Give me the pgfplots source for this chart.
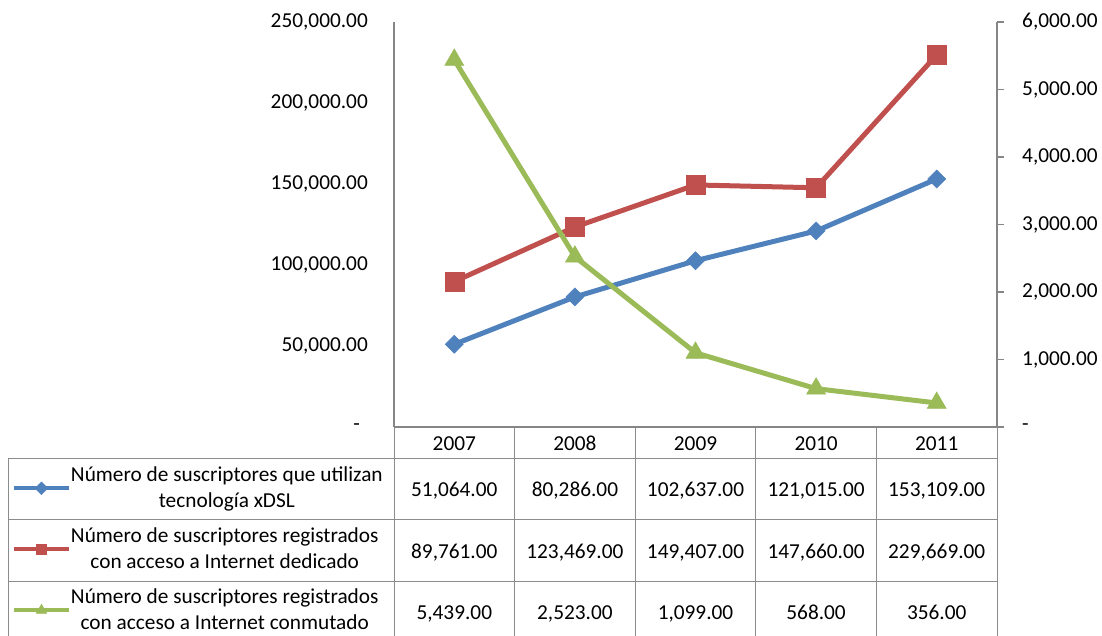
\documentclass[border=0pt]{standalone}
\usepackage{fontspec}
\setmainfont{Carlito}
\usepackage{pgfplots}
\usepackage{pgfplotstable}
\pgfplotsset{compat=1.18}
\pgfkeys{/pgf/number format/assume math mode=true}
\definecolor{sblue}{HTML}{4F81BD}
\definecolor{sred}{HTML}{C0504D}
\definecolor{sgreen}{HTML}{9BBB59}
\definecolor{axgray}{HTML}{868686}
\definecolor{tgray}{HTML}{8C8C8C}
\pgfplotstableread{
x year dsl ded con
0 2007 51064 89761 5439
1 2008 80286 123469 2523
2 2009 102637 149407 1099
3 2010 121015 147660 568
4 2011 153109 229669 356
}\data
\begin{document}
\fontsize{21.3}{26}\selectfont
\begin{tikzpicture}[x=1pt,y=1pt]
\path[use as bounding box] (0,0) rectangle (1102,636);
% table grid
\begin{scope}[draw=tgray, line width=1pt]
\foreach \xx in {394,514.6,635.2,755.8,876.4,997} {\draw (\xx,209) -- (\xx,0);}
\draw (8,177) -- (997,177);
\draw (8,116) -- (997,116);
\draw (8,54) -- (997,54);
\draw (8,177) -- (8,0);
\end{scope}
\begin{axis}[
  at={(394pt,209pt)}, anchor=south west, scale only axis,
  width=603pt, height=405pt,
  xmin=-0.5, xmax=4.5, ymin=0, ymax=250000,
  scaled y ticks=false,
  axis x line*=bottom, axis y line*=left,
  axis line style={draw=axgray, line width=1.2pt, -},
  xtick=\empty,
  ytick={0,50000,100000,150000,200000,250000},
  yticklabels={{-\hspace*{8pt}},{50,000.00},{100,000.00},{150,000.00},{200,000.00},{250,000.00}},
  major tick length=0pt,
  yticklabel style={inner sep=0pt, anchor=east, xshift=-26pt},
  clip=false,
]
\addplot[sblue, line width=5pt, mark=square*, mark size=6.4pt, mark options={rotate=45, line width=0.5pt, solid}, forget plot] table[x=x,y=dsl]{\data};
\addplot[sred, line width=5pt, mark=square*, mark size=9.5pt, mark options={line width=0.5pt, solid}, forget plot] table[x=x,y=ded]{\data};
\end{axis}
\begin{axis}[
  at={(394pt,209pt)}, anchor=south west, scale only axis,
  width=603pt, height=405pt,
  xmin=-0.5, xmax=4.5, ymin=0, ymax=6000,
  scaled y ticks=false,
  axis x line=none, axis y line*=right,
  axis line style={draw=axgray, line width=1.2pt, -},
  xtick=\empty,
  ytick={0,1000,2000,3000,4000,5000,6000},
  yticklabels={-,{1,000.00},{2,000.00},{3,000.00},{4,000.00},{5,000.00},{6,000.00}},
  tick align=outside, major tick length=7pt,
  tick style={draw=axgray, line width=1.2pt},
  yticklabel style={inner sep=0pt, anchor=west, xshift=18pt},
  clip=false,
  legend style={at={(axis description cs:-0.6335,-0.076)}, anchor=north west, draw=none, fill=none,
    inner sep=0pt, outer sep=0pt, column sep=0pt, row sep=0pt,
    nodes={minimum height=61pt, inner sep=0pt, align=center, font=\fontsize{21.3}{26}\selectfont}},
  legend cell align=left,
  legend image code/.code={\draw[mark repeat=2, mark phase=2, #1] plot coordinates {(0pt,0pt) (27.5pt,0pt) (55pt,0pt)};},
]
\addlegendimage{sblue, line width=4pt, mark=square*, mark size=4.5pt, mark options={rotate=45, line width=0.5pt, solid}}
\addlegendentry{Número de suscriptores que utilizan\\tecnología xDSL}
\addlegendimage{sred, line width=4pt, mark=square*, mark size=5pt, mark options={line width=0.5pt, solid}}
\addlegendentry{Número de suscriptores registrados\\con acceso a Internet dedicado}
\addlegendimage{sgreen, line width=4pt, mark=triangle*, mark size=6pt, mark options={line width=0.5pt, solid}}
\addlegendentry{Número de suscriptores registrados\\con acceso a Internet conmutado}
\addplot[sgreen, line width=5pt, mark=triangle*, mark size=11pt, mark options={line width=0.5pt, solid}, forget plot] table[x=x,y=con]{\data};
\end{axis}
% table text
\foreach \i in {0,...,4} {
  \pgfmathsetmacro{\cx}{394+120.6*(\i+0.5)}
  \pgfplotstablegetelem{\i}{year}\of\data
  \node[anchor=base, inner sep=0pt] at (\cx,185.3) {\pgfplotsretval};
  \pgfplotstablegetelem{\i}{dsl}\of\data
  \node[anchor=base, inner sep=0pt] at (\cx,139.3) {\pgfmathprintnumber[fixed,fixed zerofill,precision=2,1000 sep={,}]{\pgfplotsretval}};
  \pgfplotstablegetelem{\i}{ded}\of\data
  \node[anchor=base, inner sep=0pt] at (\cx,77.3) {\pgfmathprintnumber[fixed,fixed zerofill,precision=2,1000 sep={,}]{\pgfplotsretval}};
  \pgfplotstablegetelem{\i}{con}\of\data
  \node[anchor=base, inner sep=0pt] at (\cx,16) {\pgfmathprintnumber[fixed,fixed zerofill,precision=2,1000 sep={,}]{\pgfplotsretval}};
}
\end{tikzpicture}
\end{document}
